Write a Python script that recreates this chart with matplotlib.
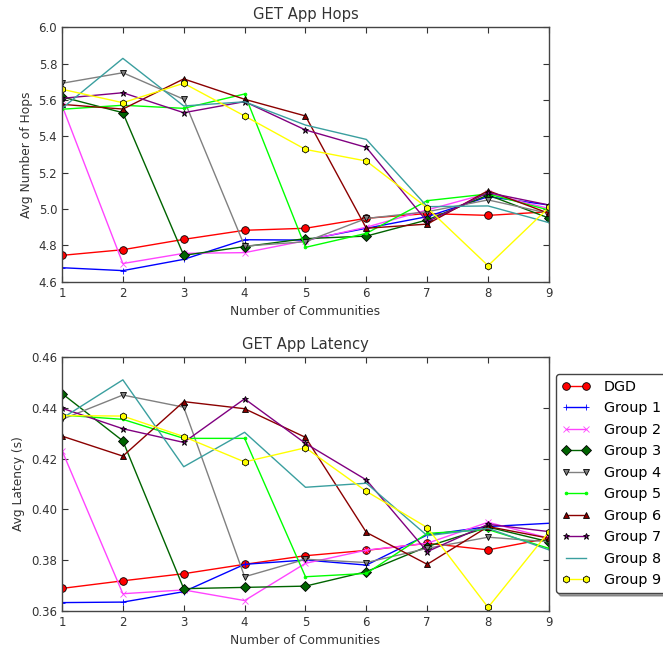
import matplotlib
matplotlib.use('Agg')
import matplotlib.pyplot as plt

# number of communities on the x axis
communities = [1, 2, 3, 4, 5, 6, 7, 8, 9]
names = ["DGD", "Group 1", "Group 2", "Group 3", "Group 4",
         "Group 5", "Group 6", "Group 7", "Group 8", "Group 9"]

# average number of hops per series
hops_dgd = [4.745, 4.776, 4.833, 4.883, 4.894, 4.949, 4.975, 4.965, 4.985]
hops_g1 = [4.677, 4.661, 4.723, 4.831, 4.829, 4.894, 4.958, 5.068, 5.022]
hops_g2 = [5.570, 4.700, 4.756, 4.760, 4.826, 4.900, 4.995, 5.086, 5.003]
hops_g3 = [5.617, 5.530, 4.745, 4.793, 4.837, 4.851, 4.940, 5.077, 4.950]
hops_g4 = [5.692, 5.750, 5.604, 4.796, 4.820, 4.948, 4.985, 5.050, 4.976]
hops_g5 = [5.549, 5.571, 5.554, 5.633, 4.789, 4.866, 5.046, 5.083, 4.994]
hops_g6 = [5.576, 5.550, 5.716, 5.604, 5.512, 4.894, 4.917, 5.101, 4.976]
hops_g7 = [5.609, 5.640, 5.530, 5.591, 5.435, 5.339, 4.930, 5.090, 5.022]
hops_g8 = [5.554, 5.829, 5.567, 5.590, 5.462, 5.383, 5.013, 5.017, 4.925]
hops_g9 = [5.659, 5.585, 5.692, 5.512, 5.328, 5.264, 5.006, 4.688, 5.009]

# average latency (s) per series
lat_dgd = [0.3688, 0.3718, 0.3746, 0.3783, 0.3817, 0.3838, 0.3866, 0.3840, 0.3886]
lat_g1 = [0.3632, 0.3634, 0.3675, 0.3783, 0.3800, 0.3780, 0.3899, 0.3932, 0.3945]
lat_g2 = [0.4232, 0.3667, 0.3682, 0.3640, 0.3787, 0.3839, 0.3866, 0.3949, 0.3886]
lat_g3 = [0.4457, 0.4270, 0.3687, 0.3692, 0.3697, 0.3754, 0.3853, 0.3930, 0.3872]
lat_g4 = [0.4355, 0.4451, 0.4403, 0.3734, 0.3803, 0.3790, 0.3846, 0.3890, 0.3872]
lat_g5 = [0.4372, 0.4355, 0.4280, 0.4280, 0.3734, 0.3747, 0.3905, 0.3920, 0.3846]
lat_g6 = [0.4289, 0.4210, 0.4425, 0.4397, 0.4284, 0.3909, 0.3783, 0.3932, 0.3886]
lat_g7 = [0.4399, 0.4318, 0.4264, 0.4436, 0.4260, 0.4116, 0.3833, 0.3941, 0.3912]
lat_g8 = [0.4359, 0.4511, 0.4168, 0.4304, 0.4087, 0.4103, 0.3896, 0.3925, 0.3840]
lat_g9 = [0.4370, 0.4368, 0.4287, 0.4187, 0.4243, 0.4071, 0.3928, 0.3613, 0.3912]

hops = [hops_dgd, hops_g1, hops_g2, hops_g3, hops_g4,
        hops_g5, hops_g6, hops_g7, hops_g8, hops_g9]
latency = [lat_dgd, lat_g1, lat_g2, lat_g3, lat_g4,
           lat_g5, lat_g6, lat_g7, lat_g8, lat_g9]

# (color, marker, size, filled)
styles = [
    ('red', 'o', 5.5, True),
    ('blue', '+', 5, False),
    ('#ff44ff', 'x', 4, False),
    ('darkgreen', 'D', 5.5, True),
    ('gray', 'v', 4.5, True),
    ('lime', '.', 4, False),
    ('darkred', '^', 5, True),
    ('purple', '*', 5, True),
    ('#3a9f9f', 'None', 4, False),
    ('yellow', 'h', 5, True),
]

plt.rcParams['font.family'] = 'DejaVu Sans'
plt.rcParams['xtick.direction'] = 'in'
plt.rcParams['ytick.direction'] = 'in'
plt.rcParams['xtick.top'] = True
plt.rcParams['ytick.right'] = True
plt.rcParams['xtick.major.size'] = 4
plt.rcParams['ytick.major.size'] = 4

fig = plt.figure(figsize=(6.63, 6.47), dpi=100)
ax1 = fig.add_axes([0.0935, 0.5646, 0.7345, 0.3932])
ax2 = fig.add_axes([0.0935, 0.0561, 0.7345, 0.3917])


def draw(ax, data):
    for vals, name, (c, m, ms, filled) in zip(data, names, styles):
        mec = 'black' if filled else c
        ax.plot(communities, vals, color=c, marker=m, markersize=ms,
                markeredgecolor=mec, markeredgewidth=0.6, linewidth=1.0,
                label=name)
    ax.set_xlim(1, 9)
    ax.set_xticks(communities)
    ax.set_xlabel('Number of Communities', fontsize=8.8, color='#333333')
    ax.tick_params(labelsize=8.5, colors='#333333', width=0.8)
    for s in ax.spines.values():
        s.set_color('#444444')
        s.set_linewidth(1.0)


draw(ax1, hops)
ax1.set_ylim(4.6, 6.0)
ax1.set_yticks([4.6, 4.8, 5.0, 5.2, 5.4, 5.6, 5.8, 6.0])
ax1.set_ylabel('Avg Number of Hops', fontsize=8.8, color='#333333')
ax1.set_title('GET App Hops', fontsize=10.6, color='#333333')

draw(ax2, latency)
ax2.set_ylim(0.36, 0.46)
ax2.set_yticks([0.36, 0.38, 0.40, 0.42, 0.44, 0.46])
ax2.set_yticklabels(['0.36', '0.38', '0.40', '0.42', '0.44', '0.46'])
ax2.set_ylabel('Avg Latency (s)', fontsize=8.8, color='#333333')
ax2.set_title('GET App Latency', fontsize=10.6, color='#333333')

leg = ax2.legend(loc='upper left', bbox_to_anchor=(1.0144, 0.934),
                 borderaxespad=0, numpoints=2, fontsize=10.4,
                 fancybox=True, shadow=True, labelspacing=0.52,
                 handlelength=1.95, handletextpad=0.95)
leg.get_frame().set_edgecolor('#444444')

fig.savefig('out.png', dpi=100)
